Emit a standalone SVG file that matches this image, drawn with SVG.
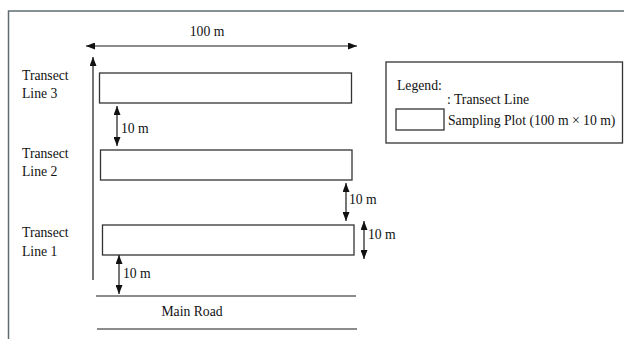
<svg xmlns="http://www.w3.org/2000/svg" width="624" height="339" viewBox="0 0 624 339">
<style>
.t{font-family:"Liberation Serif","Times New Roman",serif;font-size:13.7px;fill:#111}
.m{text-anchor:middle}
.box{fill:#fff;stroke:#333;stroke-width:1.3}
.ln{stroke:#1a1a1a;stroke-width:1.2;fill:none}
.dbl{stroke:#1a1a1a;stroke-width:1.2;fill:none;marker-start:url(#ah);marker-end:url(#ah)}
</style>
<defs>
<marker id="ah" viewBox="0 0 9 7" refX="9" refY="3.5" markerWidth="9" markerHeight="7" markerUnits="userSpaceOnUse" orient="auto-start-reverse">
<path d="M0,0 L9,3.5 L0,7 z" fill="#111"/>
</marker>
</defs>
<rect x="0" y="0" width="624" height="339" fill="#fff"/>
<rect id="frame" x="8.5" y="11" width="620" height="335" fill="none" stroke="#5f6b70" stroke-width="1.5"/>

<g id="plot3"><rect class="box" x="99.5" y="73" width="252" height="30"/>
<text class="t" x="22" y="80">Transect</text><text class="t" x="22" y="98">Line 3</text></g>
<g id="plot2"><rect class="box" x="100.5" y="150" width="251.5" height="30"/>
<text class="t" x="22" y="158">Transect</text><text class="t" x="22" y="176">Line 2</text></g>
<g id="plot1"><rect class="box" x="102.5" y="225" width="251.5" height="30"/>
<text class="t" x="22" y="237">Transect</text><text class="t" x="22" y="256">Line 1</text></g>

<g id="road">
<line class="ln" x1="96" y1="296" x2="356" y2="296"/>
<line class="ln" x1="97" y1="329" x2="357" y2="329"/>
<text class="t m" x="192" y="316">Main Road</text>
</g>

<g id="legend">
<rect x="386" y="62" width="236.5" height="81" fill="#fff" stroke="#333" stroke-width="1.3"/>
<text class="t" x="397" y="90">Legend:</text>
<rect class="box" x="396" y="109" width="48" height="21"/>
<text class="t" x="447" y="104">: Transect Line</text>
<text class="t" x="448" y="125">Sampling Plot (100 m × 10 m)</text>
</g>

<g id="connectors">
<line class="dbl" x1="86" y1="46" x2="357" y2="46"/>
<line class="ln" x1="93" y1="280" x2="93" y2="57" marker-end="url(#ah)"/>
<line class="dbl" x1="117" y1="106" x2="117" y2="146"/>
<line class="dbl" x1="346" y1="183" x2="346" y2="221"/>
<line class="dbl" x1="364" y1="221" x2="364" y2="259"/>
<line class="dbl" x1="119" y1="255" x2="119" y2="294"/>
</g>

<g id="labels">
<text class="t m" x="207" y="36">100 m</text>
<text class="t" x="121" y="133">10 m</text>
<text class="t" x="349" y="204">10 m</text>
<text class="t" x="368" y="239">10 m</text>
<text class="t" x="123" y="278">10 m</text>
</g>
</svg>
